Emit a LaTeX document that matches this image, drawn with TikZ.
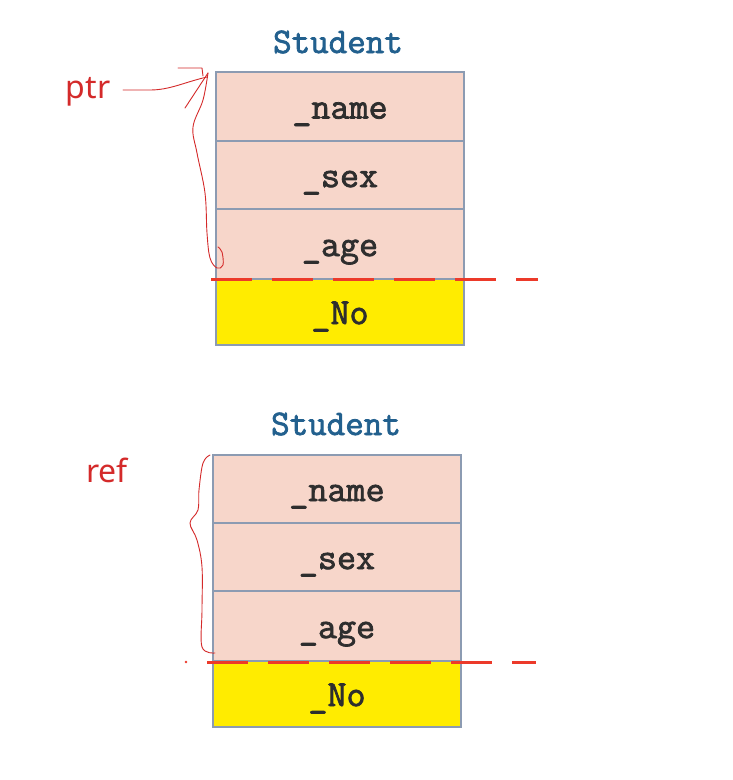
\documentclass[tikz,border=0pt]{standalone}
\usepackage{fontspec}
\newfontfamily\fieldfont[FakeBold=2]{Latin Modern Mono}
\setsansfont{Noto Sans}
\begin{document}
\begin{tikzpicture}[x=1pt,y=-1pt,
  field/.style={draw=boxline, line width=2.2pt, fill=salmon, minimum width=248pt, inner sep=0pt, anchor=north, text height=24pt, text depth=0pt, font=\fieldfont\fontsize{37}{37}\selectfont, text=black!82},
  extra/.style={field, fill=yellowf},
  title/.style={font=\fieldfont\fontsize{36}{36}\selectfont, text=titleblue},
  hand/.style={font=\sffamily\fontsize{32}{32}\selectfont, text=handred},
  pen/.style={draw=handred, line width=0.9pt, line join=round, line cap=round},
  cut/.style={draw=cutred, line width=3pt, dash pattern=on 41pt off 20pt}]
\definecolor{boxline}{HTML}{8C9BB2}
\definecolor{salmon}{HTML}{F7D6CA}
\definecolor{yellowf}{HTML}{FFEC00}
\definecolor{titleblue}{HTML}{22608E}
\definecolor{handred}{HTML}{D42A2A}
\definecolor{cutred}{HTML}{EC3A2A}
\useasboundingbox[fill=white] (0,0) rectangle (732,780);
% ---- top structure ----
\node[title] (t1) at (338,42) {Student};
\node[field, minimum height=69pt] (n1) at (340,71) {\_name};
\node[field, minimum height=68pt] (s1) at (340,140) {\_sex};
\node[field, minimum height=70pt] (a1) at (340,208) {\_age};
\node[extra, minimum height=66pt] (o1) at (340,278) {\_No};
\coordinate (d1a) at (211,279);
\coordinate (d1b) at (538,279);
\draw[cut] (d1a) -- (d1b);
\node[hand] (ptr) at (88,92) {ptr};
\draw[pen] (123,90) -- (150,90) .. controls (170,90) and (185,82) .. (207,77);
\draw[pen] (178,68) -- (202,68) -- (203,76);
\draw[pen] (185,108) -- (208,73);
\draw[pen] plot[smooth, tension=0.6] coordinates {(208,73) (203,100) (193,127) (197,153) (205,193) (207,233) (210,258) (217,268) (223,265) (222,252) (218,247)};
% ---- bottom structure ----
\node[title] (t2) at (336,424) {Student};
\node[field, minimum height=68pt] (n2) at (337,454) {\_name};
\node[field, minimum height=68pt] (s2) at (337,522) {\_sex};
\node[field, minimum height=70pt] (a2) at (337,590) {\_age};
\node[extra, minimum height=66pt] (o2) at (337,660) {\_No};
\coordinate (d2a) at (207,662);
\coordinate (d2b) at (536,662);
\draw[cut] (d2a) -- (d2b);
\fill[cutred] (186,662) circle (1.3pt);
\node[hand] (ref) at (107,470) {ref};
\draw[pen] plot[smooth, tension=0.6] coordinates {(210,455) (203,463) (199,490) (198,510) (190,523) (197,540) (202,567) (202,610) (202,647) (215,653)};
\end{tikzpicture}
\end{document}
